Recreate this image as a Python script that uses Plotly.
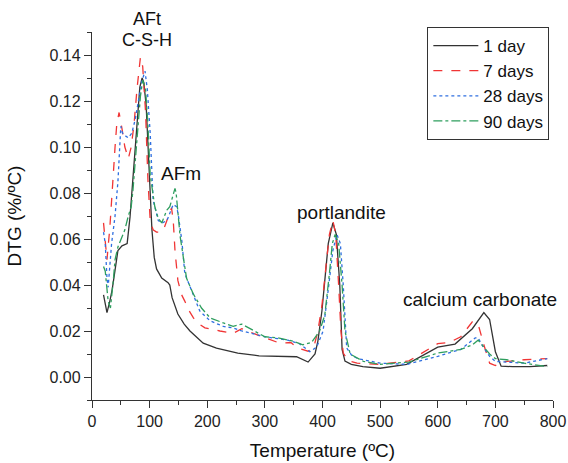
import plotly.graph_objects as go

# ---- data ----
t_1d = [20, 26, 31, 35, 40, 45, 52, 61, 66, 71, 78, 83, 87, 90, 94, 97, 101, 104, 108, 112, 121, 132, 135, 139, 149, 160, 170, 182, 193, 216, 253, 290, 314, 355, 375, 387, 392, 399, 404, 410, 418, 424, 430, 434, 439, 450, 470, 500, 546, 600, 630, 660, 680, 690, 700, 710, 730, 760, 790]
y_1d = [0.0357, 0.028, 0.033, 0.038, 0.0465, 0.055, 0.057, 0.058, 0.0696, 0.086, 0.109, 0.126, 0.130, 0.128, 0.118, 0.100, 0.081, 0.064, 0.052, 0.047, 0.043, 0.041, 0.040, 0.0345, 0.0274, 0.023, 0.020, 0.017, 0.0147, 0.0126, 0.0104, 0.0092, 0.0090, 0.0088, 0.0065, 0.010, 0.0156, 0.0287, 0.042, 0.058, 0.067, 0.062, 0.040, 0.012, 0.0069, 0.0055, 0.0045, 0.0038, 0.0055, 0.013, 0.0143, 0.021, 0.028, 0.025, 0.011, 0.0047, 0.0045, 0.0045, 0.005]

t_7d = [20, 23, 26, 31, 35, 40, 43, 47, 52, 57, 63, 68, 73, 78, 84, 88, 93, 97, 101, 106, 112, 118, 124, 130, 138, 141, 144, 149, 155, 161, 168, 176, 186, 196, 210, 222, 245, 260, 290, 326, 345, 357, 375, 385, 392, 399, 406, 412, 418, 423, 428, 432, 436, 445, 460, 500, 550, 600, 620, 640, 660, 670, 680, 690, 700, 710, 750, 790]
y_7d = [0.067, 0.057, 0.051, 0.065, 0.083, 0.100, 0.110, 0.115, 0.108, 0.100, 0.095, 0.100, 0.110, 0.125, 0.139, 0.135, 0.115, 0.086, 0.068, 0.064, 0.063, 0.063, 0.064, 0.068, 0.0735, 0.068, 0.055, 0.042, 0.036, 0.033, 0.029, 0.0257, 0.023, 0.0214, 0.0205, 0.020, 0.019, 0.021, 0.018, 0.0147, 0.015, 0.0126, 0.0112, 0.013, 0.020, 0.031, 0.048, 0.062, 0.068, 0.062, 0.040, 0.020, 0.0104, 0.007, 0.006, 0.0055, 0.007, 0.0145, 0.015, 0.0175, 0.024, 0.023, 0.014, 0.006, 0.005, 0.0065, 0.0075, 0.008]

t_28d = [20, 23, 26, 28, 34, 40, 45, 48, 50, 53, 57, 63, 69, 75, 80, 86, 92, 96, 101, 106, 115, 122, 130, 136, 141, 147, 150, 156, 161, 173, 187, 205, 228, 245, 260, 300, 340, 360, 378, 390, 401, 410, 418, 425, 431, 436, 439, 442, 452, 465, 500, 547, 600, 640, 665, 670, 680, 690, 700, 720, 750, 790]
y_28d = [0.063, 0.058, 0.043, 0.039, 0.058, 0.070, 0.085, 0.100, 0.109, 0.106, 0.105, 0.104, 0.106, 0.112, 0.120, 0.128, 0.133, 0.125, 0.106, 0.077, 0.068, 0.067, 0.068, 0.072, 0.075, 0.074, 0.070, 0.059, 0.045, 0.0375, 0.0287, 0.0244, 0.022, 0.0213, 0.020, 0.0175, 0.016, 0.0145, 0.011, 0.013, 0.020, 0.038, 0.055, 0.062, 0.058, 0.040, 0.023, 0.0126, 0.009, 0.0078, 0.006, 0.0055, 0.009, 0.012, 0.017, 0.017, 0.0126, 0.009, 0.0068, 0.0065, 0.006, 0.008]

t_90d = [20, 23, 28, 32, 37, 40, 45, 57, 63, 68, 71, 78, 84, 88, 93, 97, 101, 109, 115, 121, 130, 135, 140, 144, 146, 149, 153, 164, 176, 190, 205, 228, 245, 260, 300, 323, 349, 366, 381, 395, 404, 412, 417, 422, 428, 434, 439, 448, 471, 500, 550, 600, 640, 660, 670, 680, 690, 700, 720, 750, 790]
y_90d = [0.048, 0.046, 0.033, 0.030, 0.042, 0.051, 0.0565, 0.064, 0.070, 0.074, 0.081, 0.103, 0.122, 0.129, 0.125, 0.110, 0.088, 0.074, 0.069, 0.067, 0.0726, 0.074, 0.079, 0.082, 0.080, 0.071, 0.061, 0.043, 0.036, 0.030, 0.0257, 0.0235, 0.022, 0.023, 0.0175, 0.017, 0.0156, 0.014, 0.015, 0.020, 0.027, 0.045, 0.058, 0.062, 0.058, 0.040, 0.020, 0.010, 0.0068, 0.0055, 0.0065, 0.0104, 0.012, 0.014, 0.016, 0.013, 0.010, 0.008, 0.0075, 0.006, 0.0045]

series_names = ["1 day", "7 days", "28 days", "90 days"]
peak_labels = ["AFt", "C-S-H", "AFm", "portlandite", "calcium carbonate"]
peak_label_x = [95, 95, 155, 433, 673]
peak_label_y = [0.1555, 0.1465, 0.0885, 0.0715, 0.0335]
peak_label_size = [18, 18, 19, 19, 19]

FONT = "Liberation Sans, Arial, sans-serif"
styles = [
    dict(color="#333333", dash="solid"),
    dict(color="#f03535", dash="dash"),
    dict(color="#2f6fe0", dash="dot"),
    dict(color="#2e9e5e", dash="dashdot"),
]

fig = go.Figure()
for (t, y), name, st in zip([(t_1d, y_1d), (t_7d, y_7d), (t_28d, y_28d), (t_90d, y_90d)], series_names, styles):
    fig.add_trace(go.Scatter(x=t, y=y, mode="lines", name=name, cliponaxis=False,
                             line=dict(color=st["color"], dash=st["dash"], width=1.3)))

Y0, Y1 = -0.01, 0.15
for txt, x, y, fs in zip(peak_labels, peak_label_x, peak_label_y, peak_label_size):
    fig.add_annotation(x=x, xref="x", y=(y - Y0) / (Y1 - Y0), yref="paper",
                       text=txt, showarrow=False,
                       font=dict(family=FONT, size=fs, color="#111111"),
                       xanchor="center", yanchor="middle")

axis_common = dict(showline=True, linecolor="#333333", linewidth=1.3,
                   ticks="outside", ticklen=7, tickwidth=1.2, tickcolor="#333333",
                   showgrid=False, zeroline=False, mirror=False, automargin=False,
                   tickfont=dict(family=FONT, size=16, color="#222222"))

fig.update_xaxes(range=[0, 800], dtick=100, tick0=0,
                 minor=dict(dtick=50, ticks="outside", ticklen=4, tickcolor="#333333"),
                 title=dict(text="Temperature (ºC)", font=dict(family=FONT, size=19, color="#111111"), standoff=14),
                 **axis_common)
fig.update_yaxes(range=[Y0, Y1], dtick=0.02, tick0=0, tickformat=".2f",
                 minor=dict(dtick=0.01, ticks="outside", ticklen=4, tickcolor="#333333"),
                 title=dict(text="DTG (%/ºC)", font=dict(family=FONT, size=19, color="#111111"), standoff=22),
                 **axis_common)

fig.update_layout(
    width=568, height=463,
    margin=dict(l=92, r=15, t=32, b=63),
    plot_bgcolor="white", paper_bgcolor="white",
    font=dict(family=FONT),
    legend=dict(x=0.727, y=1.014, xanchor="left", yanchor="top",
                bordercolor="#333333", borderwidth=1.2, bgcolor="white",
                font=dict(family=FONT, size=17, color="#111111"),
                tracegroupgap=0, itemwidth=45),
)

fig.write_html("out.html", config={"displayModeBar": False},
               post_script="document.body.style.margin='0px';")
